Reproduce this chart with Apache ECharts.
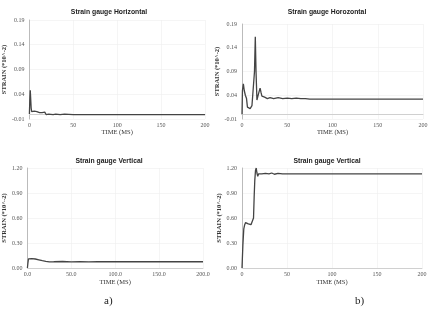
<!DOCTYPE html>
<html lang="en">
<head>
    <meta charset="UTF-8">
    <title>Strain gauge</title>
    <script type="text/javascript" src="https://cdn.jsdelivr.net/npm/echarts@6/dist/echarts.min.js"></script>
    <style>
        body { margin: 0; background: #fff; }
    </style>
</head>
<body>
    <div id="main" style="width: 431px; height: 310px;"></div>
    <script type="text/javascript">
        // a) top - horizontal gauge
        var timeAH = [0, 0.5, 1, 1.5, 2, 2.6, 3.5, 4.5, 5.5, 7, 8.5, 10, 11.5, 13, 14.5, 16, 17.5, 19, 20.5, 22, 24, 27, 30, 35, 40, 50, 75, 100, 150, 200];
        var strainAH = [0, 0.03, 0.048, 0.03, 0.012, 0.005, 0.007, 0.004, 0.006, 0.003, 0.005, 0.002, 0.003, 0.001, 0.003, 0.0, 0.004, -0.001, 0.002, 0.0, 0.001, -0.001, 0.0, -0.001, 0.0, -0.001, -0.001, -0.001, -0.001, -0.001];

        // b) top - horizontal gauge
        var timeBH = [0, 0.5, 1.5, 2.5, 3.7, 5, 6, 7, 8, 9, 10, 11, 12, 13, 13.8, 14.7, 15.5, 16.5, 17.5, 18.5, 20, 21, 22, 23, 25, 28, 31, 35, 40, 45, 50, 55, 60, 65, 70, 75, 85, 100, 125, 150, 175, 200];
        var strainBH = [0.0, 0.05, 0.064, 0.05, 0.04, 0.033, 0.015, 0.011, 0.013, 0.012, 0.016, 0.018, 0.02, 0.022, 0.09, 0.163, 0.09, 0.03, 0.034, 0.045, 0.055, 0.046, 0.038, 0.034, 0.036, 0.033, 0.035, 0.033, 0.035, 0.033, 0.034, 0.033, 0.034, 0.033, 0.033, 0.032, 0.032, 0.032, 0.032, 0.032, 0.032, 0.032];

        // a) bottom - vertical gauge
        var timeAV = [0, 0.6, 1.2, 3, 5, 7, 9, 11, 13, 15, 17, 19, 21, 23, 25, 30, 40, 50, 60, 70, 80, 100, 125, 150, 175, 200];
        var strainAV = [0, 0.06, 0.11, 0.108, 0.112, 0.105, 0.108, 0.1, 0.098, 0.092, 0.088, 0.09, 0.08, 0.076, 0.074, 0.075, 0.078, 0.074, 0.076, 0.073, 0.075, 0.075, 0.075, 0.075, 0.075, 0.075];

        // b) bottom - vertical gauge
        var timeBV = [0, 1, 2, 3, 4, 5, 6, 7, 8, 9, 10, 11, 12, 12.8, 13.5, 14.2, 15, 15.8, 16.6, 17.5, 18.5, 20, 22, 24, 26, 28, 30, 33, 36, 40, 45, 50, 60, 70, 80, 100, 125, 150, 175, 200];
        var strainBV = [0, 0.28, 0.47, 0.52, 0.545, 0.55, 0.535, 0.53, 0.525, 0.52, 0.52, 0.525, 0.52, 0.6, 0.85, 1.05, 1.17, 1.2, 1.14, 1.1, 1.13, 1.115, 1.13, 1.12, 1.135, 1.125, 1.13, 1.14, 1.125, 1.135, 1.13, 1.13, 1.13, 1.13, 1.13, 1.13, 1.13, 1.13, 1.13, 1.13];

        var titles = ['Strain gauge Horizontal', 'Strain gauge Horozontal', 'Strain gauge Vertical', 'Strain gauge Vertical'];
        var yAxisName = 'STRAIN (*10^-2)';
        var xAxisName = 'TIME (MS)';

        function zip(t, v) {
            return t.map(function (x, i) { return [x, v[i]]; });
        }

        var grids = [
            { left: 23, top: 20, width: 182, height: 99 },
            { left: 242, top: 24, width: 181, height: 95 },
            { left: 23, top: 168, width: 180, height: 100 },
            { left: 242, top: 168, width: 180, height: 100 }
        ];
        var titlePos = [[104, 4], [322, 4], [104, 153], [322, 153]];

        var serif = 'Liberation Serif';

        function xAxis(i, digits, gap) {
            return {
                type: 'value', gridIndex: i, min: 0, max: 200, interval: 50,
                name: xAxisName, nameLocation: 'middle', nameGap: gap,
                nameTextStyle: { fontFamily: serif, fontSize: 6.5, color: '#333' },
                axisLine: { show: true, lineStyle: { color: '#d0d0d0' } },
                axisTick: { show: false },
                axisLabel: {
                    fontFamily: serif, fontSize: 6, color: '#555', margin: 3,
                    formatter: function (v) { return v.toFixed(digits); }
                },
                splitLine: { lineStyle: { color: '#eeeeee', width: 0.6 } }
            };
        }

        function yAxis(i, min, max, interval, digits) {
            return {
                type: 'value', gridIndex: i, min: min, max: max, interval: interval,
                name: yAxisName, nameLocation: 'middle', nameGap: 19,
                nameTextStyle: { fontFamily: serif, fontSize: 6.5, color: '#333', fontWeight: 'bold' },
                axisLine: { show: true, lineStyle: { color: '#bbb' } },
                axisTick: { show: false },
                axisLabel: {
                    fontFamily: serif, fontSize: 6, color: '#555', margin: 5,
                    formatter: function (v) { return v.toFixed(digits); }
                },
                splitLine: { lineStyle: { color: '#eeeeee', width: 0.6 } }
            };
        }

        function series(i, t, v) {
            return {
                type: 'line', xAxisIndex: i, yAxisIndex: i,
                data: zip(t, v), showSymbol: false, symbol: 'none',
                lineStyle: { color: '#444', width: 1.3 }
            };
        }

        var myChart = echarts.init(document.getElementById('main'));
        var option = {
            animation: false,
            backgroundColor: '#fff',
            title: titles.map(function (t, i) {
                return {
                    text: t, left: titlePos[i][0], top: titlePos[i][1], textAlign: 'center',
                    textStyle: { fontFamily: 'Liberation Sans', fontSize: 6.8, fontWeight: 'bold', color: '#222' }
                };
            }),
            grid: grids,
            xAxis: [xAxis(0, 0, 8), xAxis(1, 0, 8), xAxis(2, 1, 11), xAxis(3, 0, 11)],
            yAxis: [
                yAxis(0, -0.01, 0.19, 0.05, 2),
                yAxis(1, -0.01, 0.19, 0.05, 2),
                yAxis(2, 0, 1.2, 0.3, 2),
                yAxis(3, 0, 1.2, 0.3, 2)
            ],
            series: [
                series(0, timeAH, strainAH),
                series(1, timeBH, strainBH),
                series(2, timeAV, strainAV),
                series(3, timeBV, strainBV)
            ],
            graphic: [
                { type: 'text', left: 104, top: 296, style: { text: 'a)', fontFamily: serif, fontSize: 11, fill: '#222' } },
                { type: 'text', left: 355, top: 296, style: { text: 'b)', fontFamily: serif, fontSize: 11, fill: '#222' } }
            ]
        };
        myChart.setOption(option);
    </script>
</body>
</html>
